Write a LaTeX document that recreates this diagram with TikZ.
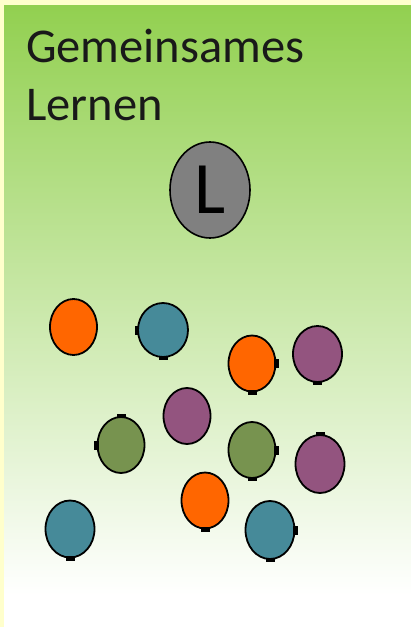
\documentclass[tikz,border=0pt]{standalone}
\usepackage{fontspec}
\setmainfont{Carlito}
\usetikzlibrary{shapes.geometric}
\definecolor{bgyellow}{HTML}{FFFFCC}
\definecolor{bggreen}{HTML}{92D050}
\definecolor{cOrange}{HTML}{FF6600}
\definecolor{cTeal}{HTML}{468A99}
\definecolor{cPurple}{HTML}{93547F}
\definecolor{cGreen}{HTML}{77934F}
\definecolor{cGray}{HTML}{808080}
\tikzset{
  pupil/.style={ellipse, draw=black, line width=1.8pt, inner sep=0pt,
    minimum width=47pt, minimum height=56pt},
  teacher/.style={ellipse, draw=black, line width=1.6pt, inner sep=0pt,
    minimum width=80pt, minimum height=96pt, fill=cGray,
    font=\fontsize{74}{74}\selectfont},
  title/.style={anchor=base west, inner sep=0pt, font=\fontsize{48.5}{58}\selectfont, text=black!90}
}
\newcommand\mkh[1]{\fill[black] ([shift={(-4.5pt,-2.3pt)}]#1) rectangle ([shift={(4.5pt,2.3pt)}]#1);}
\newcommand\mkv[1]{\fill[black] ([shift={(-2.3pt,-4.5pt)}]#1) rectangle ([shift={(2.3pt,4.5pt)}]#1);}
\begin{document}
\begin{tikzpicture}[x=1pt,y=-1pt]
\useasboundingbox (0,0) rectangle (411,627);
\fill[bgyellow] (0,0) rectangle (411,627);
\shade[top color=bggreen, bottom color=white] (4,5) rectangle (411,595);
\fill[white] (4,594.5) rectangle (411,627);
\node[title] (t1) at (26,62) {Gemeinsames};
\node[title] (t2) at (26,120) {Lernen};
\node[teacher] (L) at (210,190) {L};
% pupils
\node[pupil, fill=cOrange] (o1) at (73.5,327) {};
\node[pupil, fill=cTeal, minimum width=50pt, minimum height=54pt] (b1) at (163,330) {};
\node[pupil, fill=cOrange] (o2) at (252,363.5) {};
\node[pupil, fill=cPurple, minimum width=49pt] (p1) at (317.5,354) {};
\node[pupil, fill=cPurple] (p2) at (187,416) {};
\node[pupil, fill=cGreen] (g1) at (121,445) {};
\node[pupil, fill=cGreen] (g2) at (252,450) {};
\node[pupil, fill=cPurple, minimum width=49pt, minimum height=58pt] (p3) at (320,464) {};
\node[pupil, fill=cOrange] (o3) at (205,500.5) {};
\node[pupil, fill=cTeal, minimum width=49pt, minimum height=57pt] (b2) at (70,529) {};
\node[pupil, fill=cTeal, minimum width=49pt, minimum height=58pt] (b3) at (270,530) {};
% small marks
\mkv{b1.west}\mkh{b1.south}
\mkv{o2.east}\mkh{o2.south}
\mkh{p1.south}
\mkh{g1.north}\mkv{g1.west}
\mkv{g2.east}\mkh{g2.south}
\mkh{o3.south}
\mkh{p3.north}
\mkh{b2.south}
\mkv{b3.east}\mkh{b3.south}
\end{tikzpicture}
\end{document}
